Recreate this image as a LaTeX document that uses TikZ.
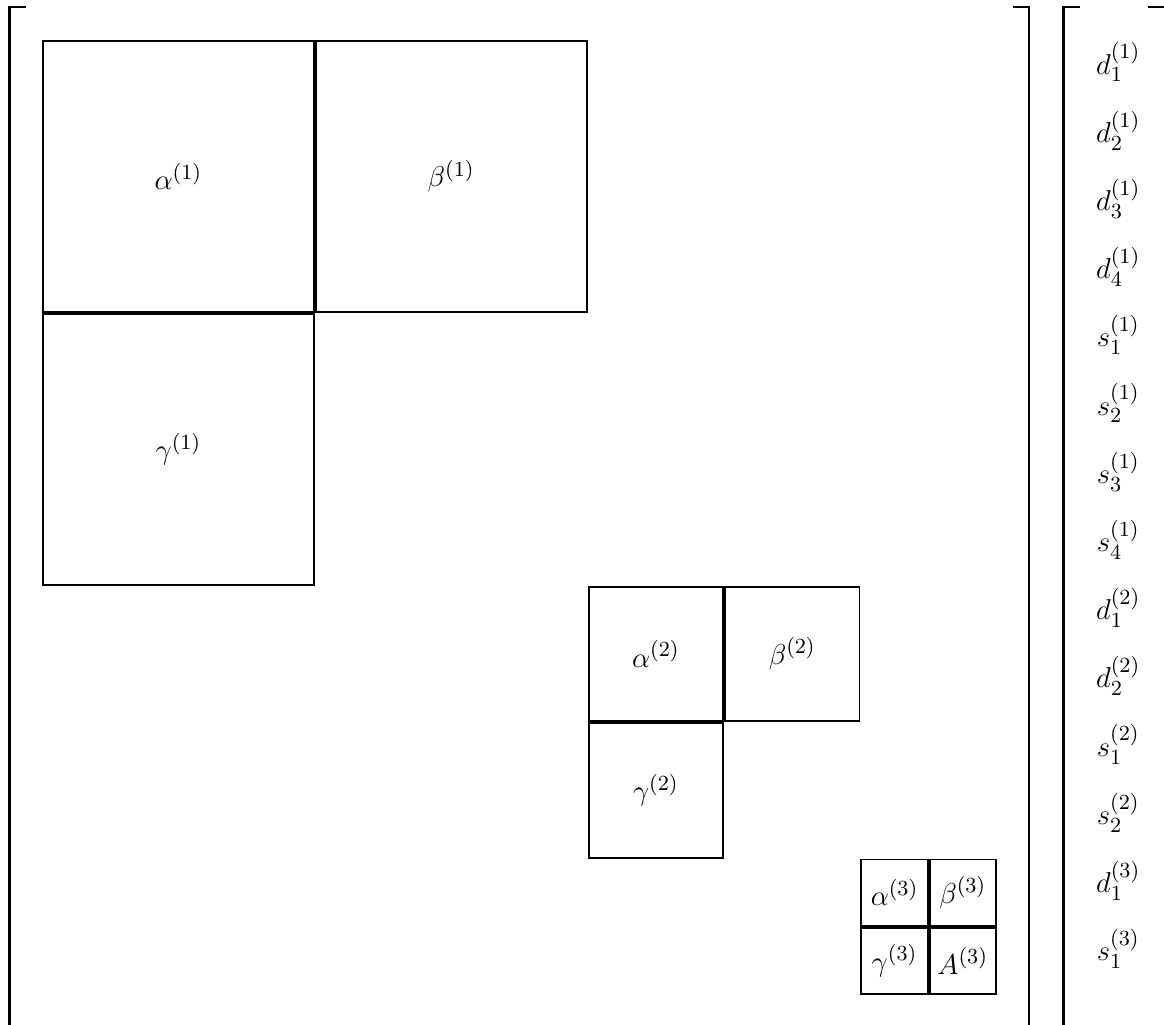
\documentclass[tikz,border=0pt]{standalone}
\usetikzlibrary{positioning}
\begin{document}
\begin{tikzpicture}[
    every node/.style={font=\fontsize{13}{15}\selectfont},
    blk/.style={draw, line width=0.8pt, minimum size=#1-0.8pt, inner sep=0pt},
    brk/.style={line width=1.2pt},
]
\useasboundingbox (-0.616,0.587) rectangle (16.45,-14.44);
\clip (-0.616,0.587) rectangle (16.45,-14.44);
% level 1
\node[blk=4cm, anchor=north west] (a1) at (0,0) {$\alpha^{(1)}$};
\node[blk=4cm, right=0pt of a1] (b1) {$\beta^{(1)}$};
\node[blk=4cm, below=0pt of a1] (g1) {$\gamma^{(1)}$};
% level 2
\node[blk=2cm, anchor=north west] (a2) at (8,-8) {$\alpha^{(2)}$};
\node[blk=2cm, right=0pt of a2] (b2) {$\beta^{(2)}$};
\node[blk=2cm, below=0pt of a2] (g2) {$\gamma^{(2)}$};
% level 3
\node[blk=1cm, anchor=north west] (a3) at (12,-12) {$\alpha^{(3)}$};
\node[blk=1cm, right=0pt of a3] (b3) {$\beta^{(3)}$};
\node[blk=1cm, below=0pt of a3] (g3) {$\gamma^{(3)}$};
\node[blk=1cm, below=0pt of b3] (A3) {$A^{(3)}$};
% brackets
\draw[brk] (-0.235,0.484) -- (-0.477,0.484) -- (-0.477,-15);
\draw[brk] (14.24,0.484) -- (14.47,0.484) -- (14.47,-15);
\draw[brk] (15.22,0.484) -- (14.97,0.484) -- (14.97,-15);
\draw[brk] (16.22,0.484) -- (16.5,0.484) -- (16.5,-15);
% vector entries
\foreach \e [count=\i] in {d_1^{(1)}, d_2^{(1)}, d_3^{(1)}, d_4^{(1)},
    s_1^{(1)}, s_2^{(1)}, s_3^{(1)}, s_4^{(1)},
    d_1^{(2)}, d_2^{(2)}, s_1^{(2)}, s_2^{(2)},
    d_1^{(3)}, s_1^{(3)}}
  \node[anchor=base] (v\i) at (15.78,{0.5-\i}) {$\e$};
\end{tikzpicture}
\end{document}
